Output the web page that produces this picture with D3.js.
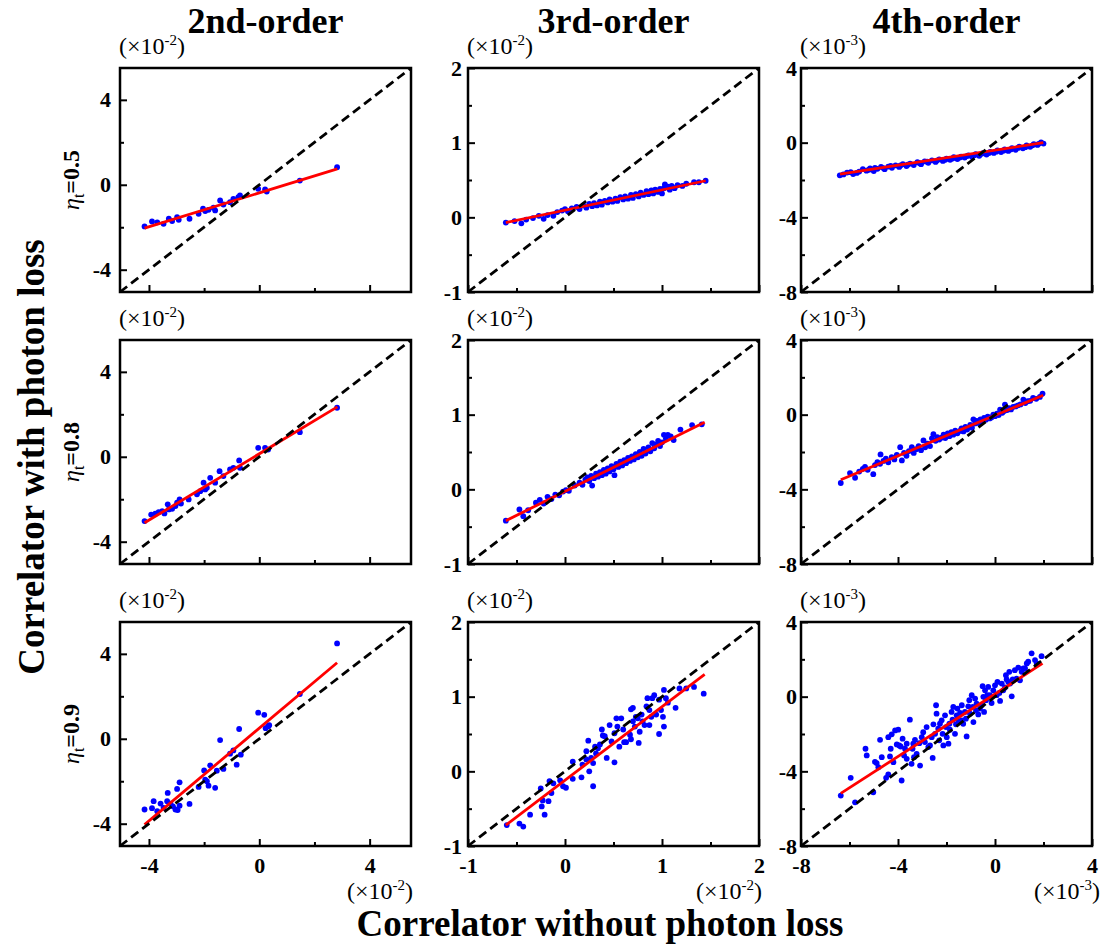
<!DOCTYPE html>
<html>
<head>
<meta charset="utf-8">
<script src="https://cdn.jsdelivr.net/npm/d3@7"></script>
<style>
body { margin: 0; background: #fff; }
svg text { font-family: "Liberation Serif", "Times New Roman", serif; }
</style>
</head>
<body>
<svg id="chart" width="1107" height="950"></svg>
<script>
// Column titles, row labels, axis ranges and ticks (values in units of the multiplier)
var orders = ["2nd-order", "3rd-order", "4th-order"];
var etas = ["0.5", "0.8", "0.9"];
var exponents = ["-2", "-2", "-3"];
var domains = [[-5.05, 5.5], [-1, 2], [-8, 4]];
var majorTicks = [[-4, 0, 4], [-1, 0, 1, 2], [-8, -4, 0, 4]];
var minorTicks = [[-2, 2], [-0.5, 0.5, 1.5], [-6, -2, 2]];

// scatter points [without loss, with loss]
var pts2nd05 = [[-4.16,-1.96],[-3.89,-1.73],[-3.70,-1.77],[-3.47,-1.84],[-3.28,-1.60],[-3.16,-1.71],[-2.98,-1.52],[-2.92,-1.65],[-2.53,-1.60],[-2.20,-1.37],[-2.04,-1.13],[-1.96,-1.24],[-1.84,-1.18],[-1.66,-1.08],[-1.60,-1.21],[-1.42,-0.74],[-1.30,-0.93],[-1.06,-0.82],[-0.94,-0.66],[-0.76,-0.58],[-0.70,-0.50],[-0.04,-0.19],[0.21,-0.22],[0.27,-0.32],[1.47,0.20],[2.82,0.83]];
var pts2nd08 = [[-4.16,-3.03],[-3.92,-2.72],[-3.77,-2.68],[-3.65,-2.61],[-3.52,-2.56],[-3.44,-2.67],[-3.32,-2.24],[-3.28,-2.48],[-3.16,-2.45],[-3.04,-2.32],[-2.98,-2.16],[-2.89,-2.01],[-2.84,-2.20],[-2.56,-2.01],[-2.26,-1.77],[-2.14,-1.62],[-2.02,-1.22],[-1.96,-1.54],[-1.90,-1.46],[-1.78,-0.99],[-1.60,-1.22],[-1.44,-0.68],[-1.30,-0.91],[-1.06,-0.60],[-0.94,-0.52],[-0.73,-0.17],[-0.70,-0.52],[-0.04,0.42],[0.21,0.42],[0.32,0.34],[1.47,1.16],[2.82,2.31]];
var pts2nd09 = [[-4.16,-3.33],[-3.89,-3.27],[-3.83,-2.94],[-3.70,-3.41],[-3.58,-3.05],[-3.47,-3.25],[-3.34,-2.94],[-3.32,-2.55],[-3.22,-3.05],[-3.13,-3.18],[-3.04,-3.33],[-2.98,-2.36],[-2.96,-3.36],[-2.89,-2.05],[-2.89,-3.15],[-2.53,-3.07],[-2.20,-2.27],[-2.00,-1.49],[-1.96,-1.92],[-1.90,-2.00],[-1.84,-2.21],[-1.78,-1.25],[-1.60,-2.31],[-1.54,-1.50],[-1.42,-0.06],[-1.30,-1.42],[-1.06,-0.70],[-0.94,-0.55],[-0.82,-1.22],[-0.73,0.46],[-0.67,-0.75],[-0.04,1.23],[0.18,1.13],[0.23,0.50],[0.32,0.58],[0.36,0.64],[1.47,2.11],[2.82,4.49]];

var pts3rd05 = [[-0.61,-0.07],[-0.52,-0.05],[-0.45,-0.08],[-0.40,-0.03],[-0.33,-0.01],[-0.27,0.02],[-0.22,-0.02],[-0.18,0.03],[-0.12,0.02],[-0.08,0.07],[-0.03,0.09],[0.00,0.11],[0.03,0.08],[0.07,0.12],[0.12,0.14],[0.15,0.11],[0.19,0.16],[0.22,0.13],[0.25,0.18],[0.28,0.15],[0.30,0.19],[0.33,0.16],[0.36,0.21],[0.38,0.17],[0.41,0.22],[0.44,0.20],[0.46,0.24],[0.49,0.21],[0.52,0.25],[0.54,0.22],[0.57,0.27],[0.60,0.24],[0.62,0.28],[0.65,0.25],[0.68,0.30],[0.70,0.26],[0.73,0.31],[0.76,0.28],[0.78,0.33],[0.81,0.30],[0.84,0.35],[0.86,0.31],[0.89,0.36],[0.91,0.32],[0.93,0.37],[0.96,0.34],[0.98,0.38],[1.00,0.32],[1.02,0.39],[1.03,0.44],[1.06,0.41],[1.08,0.37],[1.10,0.42],[1.13,0.39],[1.16,0.43],[1.21,0.42],[1.25,0.45],[1.33,0.47],[1.38,0.47],[1.45,0.49]];
var pts3rd08 = [[-0.61,-0.42],[-0.47,-0.27],[-0.43,-0.36],[-0.38,-0.28],[-0.30,-0.18],[-0.26,-0.14],[-0.22,-0.19],[-0.18,-0.10],[-0.14,-0.13],[-0.10,-0.07],[-0.06,-0.08],[-0.02,-0.03],[0.01,-0.01],[0.04,-0.02],[0.10,0.05],[0.15,0.09],[0.18,0.06],[0.21,0.13],[0.23,0.16],[0.25,0.11],[0.27,0.18],[0.28,0.05],[0.30,0.15],[0.32,0.21],[0.34,0.17],[0.36,0.23],[0.38,0.19],[0.40,0.26],[0.42,0.21],[0.44,0.28],[0.46,0.24],[0.48,0.31],[0.50,0.27],[0.51,0.19],[0.53,0.34],[0.55,0.30],[0.57,0.37],[0.59,0.32],[0.61,0.39],[0.63,0.35],[0.65,0.42],[0.67,0.38],[0.69,0.44],[0.71,0.40],[0.73,0.47],[0.75,0.43],[0.77,0.50],[0.79,0.45],[0.81,0.54],[0.83,0.48],[0.86,0.56],[0.88,0.51],[0.90,0.62],[0.92,0.55],[0.94,0.60],[0.96,0.65],[0.98,0.58],[1.00,0.63],[1.02,0.73],[1.04,0.68],[1.06,0.73],[1.09,0.71],[1.12,0.66],[1.19,0.80],[1.31,0.86],[1.41,0.87]];
var pts3rd09 = [[-0.60,-0.72],[-0.47,-0.70],[-0.43,-0.74],[-0.36,-0.58],[-0.25,-0.23],[-0.23,-0.39],[-0.24,-0.47],[-0.21,-0.58],[-0.17,-0.40],[-0.16,-0.13],[-0.14,-0.29],[-0.12,-0.16],[-0.05,-0.12],[-0.02,-0.20],[0.01,-0.22],[0.08,0.13],[0.08,-0.10],[0.17,-0.08],[0.18,0.09],[0.22,0.27],[0.24,0.41],[0.25,0.00],[0.27,0.18],[0.29,-0.20],[0.29,0.11],[0.22,0.16],[0.31,0.33],[0.32,0.24],[0.34,0.31],[0.36,0.36],[0.38,0.56],[0.39,0.48],[0.41,0.47],[0.43,0.18],[0.46,0.62],[0.48,0.40],[0.51,0.12],[0.51,0.51],[0.53,0.71],[0.54,0.60],[0.56,0.33],[0.58,0.71],[0.60,0.56],[0.61,0.39],[0.63,0.39],[0.67,0.49],[0.68,0.83],[0.68,0.43],[0.70,0.67],[0.70,0.85],[0.72,0.60],[0.73,0.73],[0.75,0.71],[0.76,0.38],[0.77,0.53],[0.79,0.76],[0.80,0.67],[0.82,0.62],[0.84,0.87],[0.85,0.98],[0.87,0.62],[0.87,0.82],[0.89,0.73],[0.90,0.98],[0.92,1.02],[0.94,0.76],[0.97,0.50],[0.97,0.96],[0.99,0.82],[1.01,0.73],[1.02,0.60],[1.02,1.09],[1.04,0.98],[1.06,0.92],[1.14,0.85],[1.18,1.11],[1.25,1.11],[1.33,1.13],[1.43,1.04]];

var pts4th05 = [[-6.40,-1.75],[-6.25,-1.70],[-6.10,-1.60],[-5.95,-1.58],[-5.85,-1.68],[-5.70,-1.62],[-5.60,-1.55],[-5.45,-1.42],[-5.30,-1.50],[-5.20,-1.45],[-5.15,-1.38],[-5.00,-1.52],[-4.95,-1.35],[-4.85,-1.40],[-4.70,-1.30],[-4.60,-1.36],[-4.55,-1.42],[-4.40,-1.28],[-4.30,-1.25],[-4.25,-1.35],[-4.10,-1.22],[-3.95,-1.30],[-3.90,-1.22],[-3.80,-1.15],[-3.65,-1.25],[-3.60,-1.18],[-3.50,-1.12],[-3.35,-1.20],[-3.20,-1.05],[-3.10,-1.10],[-3.05,-1.15],[-2.90,-1.00],[-2.80,-1.02],[-2.75,-1.08],[-2.60,-0.95],[-2.45,-1.03],[-2.40,-0.96],[-2.30,-0.90],[-2.15,-0.98],[-2.05,-0.92],[-2.00,-0.85],[-1.85,-0.92],[-1.75,-0.85],[-1.70,-0.78],[-1.55,-0.88],[-1.45,-0.80],[-1.40,-0.75],[-1.25,-0.80],[-1.15,-0.72],[-1.10,-0.68],[-0.95,-0.76],[-0.85,-0.68],[-0.80,-0.62],[-0.65,-0.70],[-0.55,-0.60],[-0.50,-0.56],[-0.35,-0.64],[-0.25,-0.56],[-0.20,-0.50],[-0.05,-0.55],[0.05,-0.48],[0.10,-0.42],[0.25,-0.50],[0.35,-0.43],[0.40,-0.36],[0.55,-0.44],[0.65,-0.36],[0.70,-0.30],[0.85,-0.38],[0.95,-0.28],[1.00,-0.22],[1.15,-0.30],[1.25,-0.24],[1.30,-0.15],[1.45,-0.22],[1.55,-0.14],[1.60,-0.08],[1.75,-0.12],[1.80,-0.06],[1.90,0.02],[2.00,-0.05]];
var pts4th08 = [[-6.36,-3.66],[-5.98,-3.13],[-5.77,-3.38],[-5.60,-3.05],[-5.45,-2.90],[-5.36,-2.80],[-5.25,-2.95],[-5.02,-3.19],[-4.95,-2.70],[-4.85,-2.55],[-4.74,-2.63],[-4.72,-2.13],[-4.60,-2.48],[-4.50,-2.35],[-4.40,-2.55],[-4.26,-2.27],[-4.15,-2.40],[-4.05,-2.15],[-3.91,-1.74],[-3.84,-2.45],[-3.75,-2.05],[-3.65,-2.20],[-3.55,-1.95],[-3.43,-1.74],[-3.35,-2.05],[-3.25,-1.85],[-3.15,-1.68],[-3.05,-1.90],[-2.95,-1.38],[-2.88,-1.75],[-2.78,-1.55],[-2.68,-1.68],[-2.60,-1.27],[-2.54,-1.05],[-2.45,-1.40],[-2.38,-1.20],[-2.30,-1.33],[-2.20,-1.23],[-2.12,-1.07],[-2.05,-1.25],[-1.95,-1.00],[-1.88,-1.15],[-1.80,-0.93],[-1.72,-1.07],[-1.64,-0.85],[-1.55,-1.00],[-1.44,-0.87],[-1.38,-0.73],[-1.30,-0.90],[-1.22,-0.65],[-1.15,-0.80],[-1.10,-0.69],[-1.02,-0.55],[-0.95,-0.70],[-0.89,-0.25],[-0.82,-0.47],[-0.75,-0.33],[-0.68,-0.45],[-0.60,-0.25],[-0.52,-0.35],[-0.45,-0.17],[-0.38,-0.27],[-0.30,-0.10],[-0.22,-0.20],[-0.15,-0.15],[-0.07,0.00],[0.00,-0.08],[0.08,0.05],[0.15,-0.02],[0.21,0.27],[0.30,0.10],[0.38,0.20],[0.41,0.54],[0.50,0.25],[0.58,0.35],[0.66,0.28],[0.75,0.42],[0.85,0.44],[0.95,0.50],[1.05,0.55],[1.17,0.81],[1.25,0.62],[1.35,0.72],[1.45,0.74],[1.57,0.90],[1.70,0.85],[1.85,0.95],[1.96,1.13]];
var pts4th09 = [[-6.36,-5.30],[-5.95,-4.35],[-5.77,-5.66],[-5.34,-2.79],[-5.29,-3.15],[-5.02,-5.12],[-4.95,-3.49],[-4.88,-3.56],[-4.81,-3.78],[-4.74,-2.31],[-4.67,-3.24],[-4.49,-4.35],[-4.40,-2.17],[-4.40,-4.17],[-4.33,-3.20],[-4.26,-2.02],[-4.30,-2.79],[-4.19,-3.51],[-4.12,-1.81],[-4.05,-2.56],[-3.99,-1.77],[-3.95,-2.61],[-3.89,-2.67],[-3.85,-4.49],[-3.81,-2.25],[-3.75,-3.15],[-3.71,-2.79],[-3.64,-2.52],[-3.64,-3.33],[-3.51,-1.23],[-3.44,-3.60],[-3.40,-2.79],[-3.37,-2.52],[-3.34,-3.24],[-3.30,-2.31],[-3.23,-3.06],[-3.12,-2.49],[-3.09,-3.69],[-3.02,-2.17],[-2.96,-1.90],[-2.89,-2.43],[-2.82,-1.63],[-2.75,-2.70],[-2.68,-2.61],[-2.61,-2.17],[-2.57,-3.28],[-2.54,-1.48],[-2.47,-1.99],[-2.43,-0.46],[-2.41,-0.91],[-2.34,-1.72],[-2.30,-2.34],[-2.27,-1.45],[-2.20,-1.27],[-2.16,-1.99],[-2.13,-2.61],[-2.06,-1.00],[-2.02,-1.63],[-1.99,-2.17],[-1.92,-2.52],[-1.88,-1.45],[-1.86,-1.77],[-1.79,-0.82],[-1.75,-1.23],[-1.72,-0.55],[-1.65,-1.99],[-1.61,-1.48],[-1.58,-1.00],[-1.55,-0.64],[-1.51,-1.30],[-1.44,-0.87],[-1.37,-0.46],[-1.37,-1.27],[-1.31,-1.45],[-1.24,-0.82],[-1.20,-1.18],[-1.17,-2.13],[-1.10,-0.52],[-1.06,-0.19],[-1.03,-0.91],[-0.96,0.08],[-0.92,-0.55],[-0.89,-1.36],[-0.82,-0.10],[-0.78,-0.73],[-0.76,-0.37],[-0.69,-0.95],[-0.62,-0.64],[-0.55,-0.46],[-0.51,0.56],[-0.48,-0.01],[-0.45,-0.82],[-0.41,0.34],[-0.37,-0.19],[-0.32,0.08],[-0.28,0.52],[-0.21,0.08],[-0.14,-0.34],[-0.07,0.34],[0.00,0.61],[0.07,0.08],[0.10,0.79],[0.18,0.20],[0.21,-0.23],[0.28,0.70],[0.34,0.34],[0.41,0.49],[0.45,1.15],[0.48,0.92],[0.55,0.79],[0.59,1.33],[0.62,0.70],[0.69,0.02],[0.73,0.92],[0.82,1.42],[0.89,0.97],[0.96,1.56],[1.03,0.88],[1.10,1.33],[1.17,1.51],[1.24,1.51],[1.31,1.78],[1.37,1.87],[1.51,2.32],[1.65,1.96],[1.72,1.78],[1.92,2.17]];

// linear fit end points (red lines)
var fit2nd05 = [[-4.16,-2.04],[2.83,0.75]];
var fit2nd08 = [[-4.16,-3.11],[2.83,2.35]];
var fit2nd09 = [[-4.16,-4.04],[2.82,3.58]];
var fit3rd05 = [[-0.61,-0.07],[1.45,0.49]];
var fit3rd08 = [[-0.61,-0.42],[1.44,0.90]];
var fit3rd09 = [[-0.61,-0.72],[1.44,1.30]];
var fit4th05 = [[-6.39,-1.68],[1.99,0.00]];
var fit4th08 = [[-6.36,-3.49],[1.99,1.04]];
var fit4th09 = [[-6.36,-5.18],[1.96,1.78]];

var scatterGrid = [[pts2nd05, pts3rd05, pts4th05], [pts2nd08, pts3rd08, pts4th08], [pts2nd09, pts3rd09, pts4th09]];
var fitGrid = [[fit2nd05, fit3rd05, fit4th05], [fit2nd08, fit3rd08, fit4th08], [fit2nd09, fit3rd09, fit4th09]];

// layout
var colLeft = [120, 468, 801];
var rowTop = [68, 340, 622];
var panelW = 291, panelH = 224;
var yLabelGap = [9, 6, 4];
var expRightShift = [2, 3, 8];

var svg = d3.select("#chart");

function fmt(d) { return String(d).replace("\u2212", "-"); }

function multiplier(g, px, py, anchor, exp) {
    var t = g.append("text")
        .attr("x", px).attr("y", py)
        .attr("text-anchor", anchor)
        .style("font-size", "24px");
    t.append("tspan").text("(\u00d710");
    t.append("tspan").attr("dy", -9).style("font-size", "15px").text(exp);
    t.append("tspan").attr("dy", 9).text(")");
}

function drawPanel(r, c) {
    var x0 = colLeft[c], y0 = rowTop[r];
    var x = d3.scaleLinear().domain(domains[c]).range([x0, x0 + panelW]);
    var y = d3.scaleLinear().domain(domains[c]).range([y0 + panelH, y0]);
    var g = svg.append("g");

    // minor ticks, pointing inward
    g.append("g").attr("transform", "translate(0," + (y0 + panelH) + ")")
        .call(d3.axisBottom(x).tickValues(minorTicks[c]).tickSize(-4).tickFormat(""));
    g.append("g").attr("transform", "translate(" + x0 + ",0)")
        .call(d3.axisLeft(y).tickValues(minorTicks[c]).tickSize(-4).tickFormat(""));

    // major ticks (x labels only in bottom row)
    g.append("g").attr("transform", "translate(0," + (y0 + panelH) + ")")
        .call(d3.axisBottom(x).tickValues(majorTicks[c]).tickSize(-7).tickPadding(11)
            .tickFormat(r === 2 ? fmt : ""));
    g.append("g").attr("transform", "translate(" + x0 + ",0)")
        .call(d3.axisLeft(y).tickValues(majorTicks[c]).tickSize(-7).tickPadding(yLabelGap[c])
            .tickFormat(fmt));

    g.selectAll(".domain").remove();
    g.selectAll(".tick line").attr("stroke", "#000").attr("stroke-width", 2);
    g.selectAll(".tick text")
        .attr("fill", "#000")
        .style("font-family", "'Liberation Serif', serif")
        .style("font-size", "22px")
        .style("font-weight", "bold");

    // scatter
    g.append("g").selectAll("circle").data(scatterGrid[r][c]).enter().append("circle")
        .attr("cx", function (d) { return x(d[0]); })
        .attr("cy", function (d) { return y(d[1]); })
        .attr("r", 2.9)
        .attr("fill", "#0000ff");

    // fit line
    var f = fitGrid[r][c];
    g.append("line")
        .attr("x1", x(f[0][0])).attr("y1", y(f[0][1]))
        .attr("x2", x(f[1][0])).attr("y2", y(f[1][1]))
        .attr("stroke", "#ff0000").attr("stroke-width", 2.8);

    // y = x reference
    g.append("line")
        .attr("x1", x(domains[c][0])).attr("y1", y(domains[c][0]))
        .attr("x2", x(domains[c][1])).attr("y2", y(domains[c][1]))
        .attr("stroke", "#000").attr("stroke-width", 2.8)
        .attr("stroke-dasharray", "9,5");

    // frame
    g.append("rect")
        .attr("x", x0).attr("y", y0)
        .attr("width", panelW).attr("height", panelH)
        .attr("fill", "none").attr("stroke", "#000").attr("stroke-width", 2.5);

    multiplier(svg, x0 - 1, y0 - 14, "start", exponents[c]);
    if (r === 2) multiplier(svg, x0 + panelW + expRightShift[c], y0 + panelH + 53, "end", exponents[c]);
}

for (var r = 0; r < 3; r++) {
    for (var c = 0; c < 3; c++) drawPanel(r, c);
}

// column titles
orders.forEach(function (t, c) {
    svg.append("text")
        .attr("x", colLeft[c] + panelW / 2).attr("y", 33)
        .attr("text-anchor", "middle")
        .style("font-size", "36px").style("font-weight", "bold")
        .text(t);
});

// row labels
etas.forEach(function (e, r) {
    var t = svg.append("text")
        .attr("transform", "translate(79," + (rowTop[r] + panelH / 2) + ") rotate(-90)")
        .attr("text-anchor", "middle")
        .style("font-size", "24px").style("font-weight", "bold");
    t.append("tspan").style("font-style", "italic").style("font-weight", "normal").text("\u03b7");
    t.append("tspan").attr("dy", 5).style("font-size", "16px").style("font-weight", "normal").text("t");
    t.append("tspan").attr("dy", -5).text("=" + e);
});

// axis titles
svg.append("text")
    .attr("transform", "translate(44,457) rotate(-90)")
    .attr("text-anchor", "middle")
    .style("font-size", "37px").style("font-weight", "bold")
    .text("Correlator with photon loss");

svg.append("text")
    .attr("x", 600).attr("y", 936)
    .attr("text-anchor", "middle")
    .style("font-size", "37px").style("font-weight", "bold")
    .text("Correlator without photon loss");
</script>
</body>
</html>
